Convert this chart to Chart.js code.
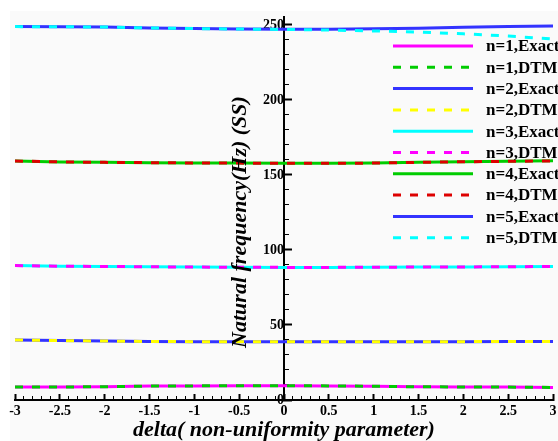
<!DOCTYPE html>
<html>
<head>
<meta charset="utf-8">
<script src="https://cdn.jsdelivr.net/npm/chart.js@4"></script>
<style>
  html, body { margin: 0; padding: 0; background: #ffffff; }
  #wrap { width: 558px; height: 441px; position: relative; }
</style>
</head>
<body>
<div id="wrap"><canvas id="c" width="558" height="441"></canvas></div>
<script>
// delta (non-uniformity parameter) sample points
const deltas = [-3, -2.5, -2, -1.5, -1, -0.5, 0, 0.5, 1, 1.5, 2, 2.5, 3];

// natural frequencies (Hz), exact solution and DTM, modes n = 1..5
const n1Exact = [8.6, 8.7, 8.8, 9.3, 9.4, 9.5, 9.5, 9.4, 9.2, 8.8, 8.7, 8.6, 8.4];
const n1DTM   = [8.6, 8.7, 8.8, 9.3, 9.4, 9.5, 9.5, 9.4, 9.2, 8.8, 8.7, 8.6, 8.4];
const n2Exact = [40.0, 39.6, 39.3, 39.0, 38.9, 38.9, 38.8, 38.8, 38.8, 38.8, 38.9, 39.0, 39.0];
const n2DTM   = [40.0, 39.6, 39.3, 39.0, 38.9, 38.9, 38.8, 38.8, 38.8, 38.8, 38.9, 39.0, 39.0];
const n3Exact = [89.6, 89.2, 89.0, 88.8, 88.6, 88.5, 88.4, 88.4, 88.5, 88.6, 88.7, 88.8, 89.0];
const n3DTM   = [89.6, 89.2, 89.0, 88.8, 88.6, 88.5, 88.4, 88.4, 88.5, 88.6, 88.7, 88.8, 89.0];
const n4Exact = [159.3, 158.7, 158.4, 158.2, 158.0, 157.9, 157.8, 157.8, 157.9, 158.4, 158.8, 159.1, 159.4];
const n4DTM   = [159.3, 158.7, 158.4, 158.2, 158.0, 157.9, 157.8, 157.8, 157.9, 158.4, 158.8, 159.1, 159.4];
const n5Exact = [248.9, 248.8, 248.6, 248.0, 247.6, 247.3, 247.1, 247.2, 247.4, 247.8, 248.4, 248.9, 249.3];
const n5DTM   = [248.9, 248.8, 248.6, 248.0, 247.6, 247.3, 247.0, 246.6, 246.0, 245.2, 244.1, 242.6, 240.6];

const seriesLabels = ['n=1,Exact', 'n=1,DTM', 'n=2,Exact', 'n=2,DTM', 'n=3,Exact',
                      'n=3,DTM', 'n=4,Exact', 'n=4,DTM', 'n=5,Exact', 'n=5,DTM'];
const seriesValues = [n1Exact, n1DTM, n2Exact, n2DTM, n3Exact, n3DTM, n4Exact, n4DTM, n5Exact, n5DTM];
const seriesColors = ['#ff00ff', '#00cc00', '#3333ff', '#ffff00', '#00ffff',
                      '#ff00ff', '#00cc00', '#dd0000', '#3333ff', '#00ffff'];

// major tick labels; minor ticks sit at every 0.1 (x) and every 10 (y)
const xTickLabels = ['-3', '-2.5', '-2', '-1.5', '-1', '-0.5', '0', '0.5', '1', '1.5', '2', '2.5', '3'];
const yTickLabels = ['0', '50', '100', '150', '200', '250'];

const SERIF = '"Liberation Serif", "Times New Roman", serif';
const DASH = [8, 9];

const datasets = seriesLabels.map((label, i) => {
  const dashed = label.indexOf('DTM') >= 0;
  return {
    label,
    data: deltas.map((d, k) => ({ x: d, y: seriesValues[i][k] })),
    borderColor: seriesColors[i],
    backgroundColor: seriesColors[i],
    borderWidth: 3,
    borderDash: dashed ? DASH : [],
    order: dashed ? 0 : 1,        // dashed DTM curves sit on top of the exact ones
    pointRadius: 0,
    tension: 0,
    fill: false,
    xAxisID: 'x',
    yAxisID: 'y'
  };
});

// replace the generated ticks with labelled majors
function majorTicks(labels) {
  return (scale) => { scale.ticks = labels.map(s => ({ value: parseFloat(s) })); };
}
// minor ticks every `step` from first to last major
function minorTicks(labels, step) {
  return (scale) => {
    const lo = parseFloat(labels[0]), hi = parseFloat(labels[labels.length - 1]);
    const count = Math.round((hi - lo) / step);
    const out = [];
    for (let k = 0; k <= count; k++) out.push({ value: lo + k * step });
    scale.ticks = out;
  };
}

// no extra side padding for the edge tick labels
function noSidePadding(scale) {
  scale.paddingLeft = 0;
  scale.paddingRight = 0;
  scale.paddingTop = 0;
  scale.paddingBottom = 0;
}

// light page tone behind the plot
const backdrop = {
  id: 'backdrop',
  beforeDraw(chart) {
    const ctx = chart.ctx;
    ctx.save();
    ctx.fillStyle = '#fafafa';
    ctx.fillRect(10, 11, chart.width - 10, chart.height - 11);
    ctx.restore();
  }
};

// line-sample legend inside the plot, right side
const sampleLegend = {
  id: 'sampleLegend',
  afterDraw(chart) {
    const ctx = chart.ctx;
    const x0 = 393, x1 = 473, tx = 486, top = 46, gap = 21.3;
    ctx.save();
    chart.data.datasets.forEach((ds, i) => {
      const y = top + i * gap;
      ctx.beginPath();
      ctx.setLineDash(ds.borderDash || []);
      ctx.strokeStyle = ds.borderColor;
      ctx.lineWidth = 3;
      ctx.moveTo(x0, y);
      ctx.lineTo(x1, y);
      ctx.stroke();
      ctx.setLineDash([]);
      ctx.fillStyle = '#000000';
      ctx.font = 'bold 17px ' + SERIF;
      ctx.textAlign = 'left';
      ctx.textBaseline = 'middle';
      ctx.fillText(ds.label, tx, y + 1);
    });
    ctx.restore();
  }
};

// axis titles
const axisTitles = {
  id: 'axisTitles',
  afterDraw(chart) {
    const ctx = chart.ctx;
    ctx.save();
    ctx.fillStyle = '#000000';
    ctx.font = 'italic bold 22px ' + SERIF;
    ctx.textAlign = 'center';
    ctx.textBaseline = 'middle';
    ctx.fillText('delta( non-uniformity parameter)', 284, 430);
    ctx.translate(240, 222);
    ctx.rotate(-Math.PI / 2);
    ctx.fillText('Natural frequency(Hz) (SS)', 0, 0);
    ctx.restore();
  }
};

const tickFont = { family: SERIF, size: 14, weight: 'bold' };

new Chart(document.getElementById('c'), {
  type: 'line',
  data: { datasets },
  options: {
    responsive: false,
    animation: false,
    layout: { padding: { left: 15, right: 5, top: 17, bottom: 41 } },
    plugins: { legend: { display: false }, tooltip: { enabled: false } },
    scales: {
      x: {
        type: 'linear', min: -3, max: 3,
        position: { y: 0 },
        z: 1,
        afterBuildTicks: majorTicks(xTickLabels),
        afterFit: noSidePadding,
        ticks: {
          color: '#000000', font: tickFont, padding: 10, maxRotation: 0, autoSkip: false,
          callback: (v) => xTickLabels[Math.round((v + 3) / 0.5)]
        },
        grid: { drawOnChartArea: false, tickLength: -7, tickWidth: 2, tickColor: '#000000' },
        border: { display: true, width: 2, color: '#000000' }
      },
      xMinor: {
        type: 'linear', axis: 'x', min: -3, max: 3,
        position: { y: 0 },
        z: 1,
        afterBuildTicks: minorTicks(xTickLabels, 0.1),
        afterFit: noSidePadding,
        ticks: { display: false, autoSkip: false },
        grid: { drawOnChartArea: false, tickLength: -4, tickWidth: 1, tickColor: '#000000' },
        border: { display: false }
      },
      y: {
        type: 'linear', min: 0, max: 255.3,
        position: { x: 0 },
        z: 1,
        afterBuildTicks: majorTicks(yTickLabels),
        afterFit: noSidePadding,
        ticks: {
          color: '#000000', font: tickFont, padding: 4, autoSkip: false,
          callback: (v) => yTickLabels[Math.round(v / 50)]
        },
        grid: { drawOnChartArea: false, tickLength: -9, tickWidth: 2, tickColor: '#000000' },
        border: { display: true, width: 2, color: '#000000' }
      },
      yMinor: {
        type: 'linear', axis: 'y', min: 0, max: 255.3,
        position: { x: 0 },
        z: 1,
        afterBuildTicks: minorTicks(yTickLabels, 10),
        afterFit: noSidePadding,
        ticks: { display: false, autoSkip: false },
        grid: { drawOnChartArea: false, tickLength: -5, tickWidth: 1, tickColor: '#000000' },
        border: { display: false }
      }
    }
  },
  plugins: [backdrop, sampleLegend, axisTitles]
});
</script>
</body>
</html>
